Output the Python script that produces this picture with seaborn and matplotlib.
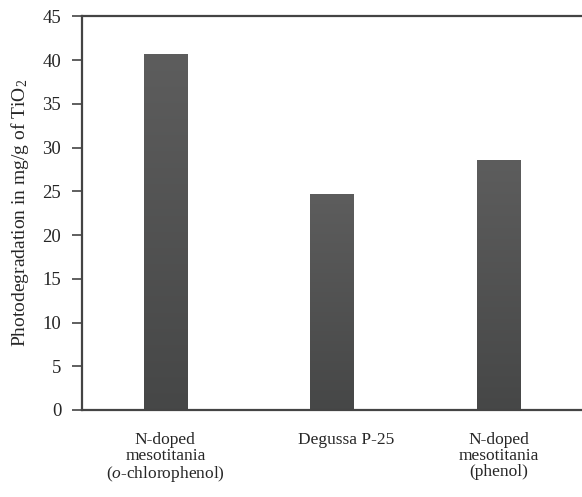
import numpy as np
import pandas as pd
import matplotlib
matplotlib.use('Agg')

import matplotlib.pyplot as plt
import matplotlib.transforms as mtransforms
import seaborn as sns

# data
categories = ["N-doped\nmesotitania\n($o$-chlorophenol)", "Degussa P-25",
              "N-doped\nmesotitania\n(phenol)"]
values = [40.7, 24.7, 28.6]
yticks = [0, 5, 10, 15, 20, 25, 30, 35, 40, 45]

df = pd.DataFrame({'catalyst': categories, 'value': values})

sns.set_style('white')
plt.rcParams['font.family'] = ['Liberation Serif', 'DejaVu Serif']
plt.rcParams['mathtext.fontset'] = 'custom'
plt.rcParams['mathtext.rm'] = 'Liberation Serif'
plt.rcParams['mathtext.it'] = 'Liberation Serif:italic'

fig = plt.figure(figsize=(5.82, 4.97), dpi=100)
ax = fig.add_axes([82 / 582, 87 / 497, 1 - 82 / 582, (410 - 16.5) / 497])

sns.barplot(data=df, x='catalyst', y='value', color='#545454',
            width=0.26, ax=ax, saturation=1)

# vertical gradient inside each bar
grad = np.linspace(0, 1, 256).reshape(-1, 1)
cmap = matplotlib.colors.LinearSegmentedColormap.from_list('g', ['#464747', '#5d5d5d'])
for p in ax.patches:
    x0, y0 = p.get_x(), p.get_y()
    im = ax.imshow(grad, extent=[x0, x0 + p.get_width(), y0, y0 + p.get_height()],
                   origin='lower', cmap=cmap, aspect='auto', zorder=p.get_zorder() + 0.1)
    im.set_clip_path(p)

ax.set_xlim(-0.5, 2.5)
ax.set_ylim(0, 45)
ax.set_yticks(yticks)
ax.set_xlabel('')
ax.set_ylabel('Photodegradation in mg/g of TiO$_2$', fontsize=14, labelpad=8)

for side in ['left', 'bottom', 'top']:
    ax.spines[side].set_visible(True)
    ax.spines[side].set_color('#444444')
    ax.spines[side].set_linewidth(1.6)
ax.spines['right'].set_visible(False)

ax.tick_params(axis='y', direction='out', length=7, width=1.2, color='#444444',
               labelsize=13.5, pad=8, left=True)
ax.tick_params(axis='x', length=0, labelsize=12.5, pad=16)
for lab in ax.get_xticklabels():
    lab.set_linespacing(1.0)
# middle label sits a bit right of its bar in the original
mid = ax.get_xticklabels()[1]
mid.set_transform(mid.get_transform() + mtransforms.ScaledTranslation(14 / 100, 0, fig.dpi_scale_trans))

fig.savefig('out.png', dpi=100)
plt.close()
